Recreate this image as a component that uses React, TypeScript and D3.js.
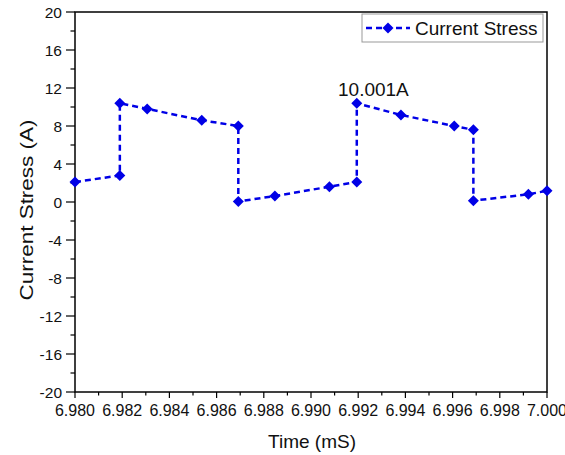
import React from "react";
import * as d3 from "d3";

const times = [6.98, 6.9819, 6.9819, 6.98306, 6.98537, 6.98692, 6.98692, 6.98847, 6.99078, 6.99194, 6.99194, 6.99381, 6.99607, 6.99688, 6.99688, 6.99921, 7.0];
const stress = [2.1, 2.8, 10.39, 9.8, 8.6, 8.0, 0.05, 0.63, 1.61, 2.1, 10.39, 9.16, 8.0, 7.6, 0.14, 0.81, 1.18];
const xTicks = [6.98, 6.982, 6.984, 6.986, 6.988, 6.99, 6.992, 6.994, 6.996, 6.998, 7.0];
const yTicks = [-20, -16, -12, -8, -4, 0, 4, 8, 12, 16, 20];
const seriesName = "Current Stress";
const peakLabel = "10.001A";

const W = 565, H = 455;
const M = { left: 75, right: 547, top: 12, bottom: 392 };
const BLUE = "#0000e6";
const FONT = "'Liberation Sans', Arial, sans-serif";

export default function App() {
  const x = d3.scaleLinear().domain([6.98, 7.0]).range([M.left, M.right]);
  const y = d3.scaleLinear().domain([-20, 20]).range([M.bottom, M.top]);
  const pts = times.map((t, i) => [t, stress[i]] as [number, number]);
  const line = d3.line<[number, number]>().x(d => x(d[0])).y(d => y(d[1]));
  const xMinor = d3.range(0, 21).map(i => 6.98 + i * 0.001);
  const yMinor = d3.range(-20, 21, 2);
  const diamond = (cx: number, cy: number, r: number) =>
    `M${cx},${cy - r}L${cx + r},${cy}L${cx},${cy + r}L${cx - r},${cy}Z`;

  return (
    <svg width={W} height={H} style={{ position: "absolute", left: 0, top: 0, background: "#fff" }} fontFamily={FONT}>
      <rect x={0} y={0} width={W} height={H} fill="#fff" />
      {/* frame */}
      <rect x={M.left} y={M.top} width={M.right - M.left} height={M.bottom - M.top} fill="none" stroke="#000" strokeWidth={1.5} />
      {/* x ticks */}
      {xMinor.map((v, i) => (
        <line key={"xm" + i} x1={x(v)} x2={x(v)} y1={M.bottom} y2={M.bottom + (i % 2 === 0 ? 6 : 3.5)} stroke="#000" strokeWidth={1.2} />
      ))}
      {xTicks.map(v => (
        <text key={"xt" + v} x={x(v)} y={M.bottom + 24} textAnchor="middle" fontSize={16} fill="#111">{v.toFixed(3)}</text>
      ))}
      {/* y ticks */}
      {yMinor.map((v, i) => (
        <line key={"ym" + i} x1={M.left} x2={M.left - (v % 4 === 0 ? 9 : 4.5)} y1={y(v)} y2={y(v)} stroke="#000" strokeWidth={1.2} />
      ))}
      {yTicks.map(v => (
        <text key={"yt" + v} x={M.left - 13} y={y(v) + 6} textAnchor="end" fontSize={15.5} fill="#111">{v}</text>
      ))}
      <text x={312} y={448} textAnchor="middle" fontSize={19} fill="#111">Time (mS)</text>
      <text transform={`translate(33,210) rotate(-90)`} textAnchor="middle" fontSize={19} textLength={181} lengthAdjust="spacingAndGlyphs" fill="#111">Current Stress (A)</text>
      {/* series */}
      <path d={line(pts) || ""} fill="none" stroke={BLUE} strokeWidth={2.5} strokeDasharray="6,4" />
      {pts.map((p, i) => (
        <path key={"pt" + i} d={diamond(x(p[0]), y(p[1]), 5.5)} fill={BLUE} />
      ))}
      <text x={338} y={96} fontSize={19} fill="#111">{peakLabel}</text>
      {/* legend */}
      <rect x={362} y={14} width={181} height={28} fill="#fff" stroke="#999" strokeWidth={1} />
      <line x1={366} x2={410} y1={28} y2={28} stroke={BLUE} strokeWidth={2.5} strokeDasharray="6,4" />
      <path d={diamond(388, 28, 5.5)} fill={BLUE} />
      <text x={415} y={35} fontSize={19} fill="#111">{seriesName}</text>
    </svg>
  );
}
